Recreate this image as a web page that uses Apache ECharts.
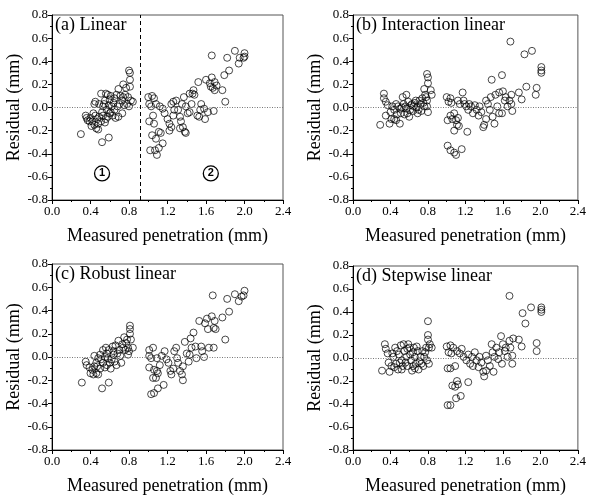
<!DOCTYPE html>
<html><head><meta charset="utf-8">
<script src="https://cdn.jsdelivr.net/npm/echarts@6/dist/echarts.min.js"></script>
<style>html,body{margin:0;padding:0;background:#fff}#c{width:589px;height:496px}</style>
</head><body><div id="c"></div>
<script>
const panelTitles = ['(a) Linear','(b) Interaction linear','(c) Robust linear','(d) Stepwise linear'];
const xTicks = [0.0,0.4,0.8,1.2,1.6,2.0,2.4];
const yTicks = [-0.8,-0.6,-0.4,-0.2,0.0,0.2,0.4,0.6,0.8];
const xName = 'Measured penetration (mm)';
const yName = 'Residual (mm)';
const splitX = 0.92;
const regionMarks = [[0.52,-0.57,'1'],[1.65,-0.57,'2']];

const linearPts = [
[0.30,-0.23],[0.52,-0.30],[0.59,-0.26],[0.35,-0.07],[0.36,-0.09],[0.37,-0.11],[0.39,-0.12],[0.41,-0.16],[0.44,-0.15],[0.46,-0.18],[0.48,-0.19],[0.48,-0.14],[0.45,-0.07],[0.43,-0.05],[0.44,0.03],[0.45,0.05],
[0.51,0.12],[0.56,0.12],[0.58,0.11],[0.61,0.10],[0.65,0.08],[0.69,0.16],[0.74,0.20],[0.77,0.17],[0.80,0.32],[0.81,0.30],[0.81,0.24],[0.81,0.18],[0.79,0.09],[0.82,0.06],[0.84,0.05],[0.78,0.03],[0.80,0.01],
[0.49,0.03],[0.53,0.01],[0.55,0.06],[0.57,-0.02],[0.60,-0.05],[0.63,-0.07],[0.65,-0.02],[0.68,0.01],[0.70,0.03],[0.73,0.06],[0.74,0.09],[0.53,-0.07],[0.56,-0.10],[0.51,-0.12],[0.49,-0.08],[0.58,-0.08],[0.62,0.01],[0.69,-0.08],[0.73,-0.05],[0.67,0.11],
[0.40,-0.09],[0.42,-0.12],[0.47,-0.10],[0.52,-0.04],[0.54,0.03],[0.59,0.02],[0.61,-0.04],[0.64,0.04],[0.66,-0.09],[0.71,0.10],[0.76,0.11],[0.75,0.02],[0.60,0.07],[0.55,-0.13],
[1.00,0.09],[1.04,0.10],[1.06,0.08],[1.01,0.03],[1.03,0.01],[1.08,0.03],[1.12,0.01],[1.15,-0.01],[1.01,-0.12],[1.05,-0.07],[1.06,-0.14],[1.04,-0.24],[1.08,-0.27],[1.11,-0.21],[1.13,-0.22],[1.02,-0.37],[1.07,-0.37],[1.09,-0.41],[1.15,-0.31],[1.11,-0.35],
[1.17,-0.05],[1.20,-0.10],[1.22,-0.14],[1.22,-0.20],[1.24,-0.17],[1.26,-0.07],[1.27,-0.02],[1.24,0.03],[1.26,0.05],[1.29,0.06],[1.31,-0.02],[1.33,-0.08],[1.34,-0.12],[1.33,-0.18],[1.36,-0.17],[1.38,-0.21],[1.39,-0.22],[1.35,0.03],[1.37,0.09],[1.39,0.01],[1.41,-0.05],[1.43,-0.04],[1.45,0.03],[1.43,0.12],[1.46,0.12],[1.47,0.15],[1.48,0.11],
[1.51,-0.07],[1.53,-0.08],[1.54,-0.02],[1.52,0.22],[1.55,0.03],[1.58,-0.01],[1.59,-0.10],[1.60,0.24],[1.62,-0.04],[1.64,0.21],[1.65,0.18],[1.66,0.26],[1.67,0.17],[1.69,0.22],[1.69,0.15],[1.71,0.19],[1.66,0.45],[1.68,-0.03],
[1.77,0.15],[1.79,0.28],[1.80,0.05],[1.82,0.43],[1.84,0.32],[1.90,0.49],[1.94,0.38],[1.95,0.43],[2.00,0.47],[2.00,0.44],[1.99,0.43]
];
const interactionPts = [
[0.29,-0.15],[0.33,0.12],[0.33,0.08],[0.35,0.05],[0.37,0.02],[0.35,-0.07],[0.39,-0.14],[0.41,-0.10],[0.44,-0.10],[0.46,-0.11],[0.50,-0.14],[0.42,0.01],[0.44,-0.02],[0.46,0.03],[0.48,0.01],[0.50,-0.01],[0.53,0.09],[0.54,0.03],[0.56,0.01],[0.57,0.11],[0.58,-0.05],[0.60,-0.08],[0.61,-0.02],[0.63,0.03],[0.65,0.01],[0.67,0.06],[0.69,-0.05],[0.70,-0.02],[0.72,0.03],[0.74,0.08],[0.76,0.01],[0.77,0.11],[0.79,0.06],[0.79,0.01],[0.80,-0.04],[0.79,0.29],[0.80,0.26],[0.80,0.21],[0.83,0.15],[0.84,0.11],[0.62,0.02],[0.51,-0.05],[0.40,-0.04],[0.76,0.16],
[0.52,0.00],[0.55,-0.06],[0.59,0.05],[0.64,-0.03],[0.66,0.04],[0.68,0.00],[0.71,0.06],[0.73,-0.03],[0.75,0.04],[0.78,0.09],[0.47,-0.06],[0.57,-0.01],
[1.00,0.09],[1.02,0.05],[1.04,0.08],[1.05,0.04],[1.01,-0.11],[1.04,-0.07],[1.06,-0.10],[1.08,-0.05],[1.10,-0.11],[1.11,-0.15],[1.12,-0.09],[1.08,-0.20],[1.01,-0.33],[1.04,-0.37],[1.08,-0.39],[1.10,-0.41],[1.16,-0.36],[1.13,-0.16],[1.17,0.13],[1.12,0.06],[1.14,0.03],[1.18,0.06],[1.19,0.03],[1.21,0.01],[1.23,-0.02],[1.22,-0.21],[1.24,0.03],[1.26,0.01],[1.28,-0.05],[1.30,0.02],[1.32,-0.02],[1.34,-0.07],[1.35,0.01],[1.37,-0.04],[1.39,-0.17],[1.40,-0.15],[1.42,-0.10],[1.42,0.06],[1.44,0.03],[1.46,-0.02],[1.47,0.09],[1.48,0.24],[1.49,-0.08],[1.51,-0.14],[1.52,0.11],[1.54,0.01],[1.56,0.13],[1.56,-0.05],[1.59,0.28],[1.60,0.14],[1.59,-0.05],[1.62,0.06],[1.63,0.09],[1.65,0.01],[1.67,0.06],[1.69,0.11],[1.70,-0.03],[1.68,0.57],[1.69,0.03],[1.77,0.13],[1.80,0.07],[1.83,0.46],[1.85,0.18],[1.91,0.49],[1.96,0.17],[1.95,0.11],[2.01,0.35],[2.01,0.32],[2.01,0.30]
];
const robustPts = [
[0.31,-0.22],[0.52,-0.27],[0.59,-0.22],[0.35,-0.04],[0.36,-0.07],[0.39,-0.09],[0.40,-0.14],[0.43,-0.15],[0.46,-0.14],[0.48,-0.15],[0.44,-0.08],[0.46,-0.05],[0.44,0.01],[0.48,-0.01],[0.50,0.02],[0.51,-0.02],[0.53,-0.05],[0.53,0.06],[0.56,0.08],[0.57,0.03],[0.58,-0.01],[0.60,-0.05],[0.61,-0.10],[0.63,0.09],[0.64,0.02],[0.65,-0.04],[0.67,-0.07],[0.69,0.14],[0.70,0.06],[0.71,0.01],[0.73,0.11],[0.75,0.17],[0.76,0.06],[0.77,0.12],[0.79,0.08],[0.79,0.02],[0.81,0.27],[0.81,0.24],[0.81,0.20],[0.82,0.15],[0.84,0.08],[0.80,0.05],[0.50,-0.10],[0.64,0.05],[0.57,-0.07],[0.72,-0.05],
[0.42,-0.11],[0.47,-0.08],[0.55,0.00],[0.59,0.06],[0.62,-0.02],[0.66,0.10],[0.68,0.03],[0.74,0.08],[0.78,0.15],[0.55,-0.09],
[1.01,0.06],[1.05,0.08],[1.01,0.01],[1.03,-0.01],[1.01,-0.09],[1.06,-0.11],[1.09,-0.12],[1.05,-0.18],[1.08,-0.18],[1.10,-0.14],[1.12,-0.07],[1.09,-0.01],[1.14,0.01],[1.03,-0.32],[1.06,-0.31],[1.10,-0.27],[1.16,-0.24],[1.17,0.05],[1.19,-0.02],[1.21,-0.05],[1.23,-0.12],[1.24,-0.15],[1.26,-0.10],[1.27,0.05],[1.29,0.08],[1.30,-0.01],[1.31,-0.05],[1.33,-0.12],[1.35,-0.15],[1.36,-0.08],[1.36,-0.20],[1.38,0.13],[1.40,0.03],[1.42,-0.04],[1.43,0.02],[1.44,0.16],[1.45,0.08],[1.47,0.21],[1.49,0.09],[1.50,-0.01],[1.53,0.31],[1.55,0.09],[1.56,0.05],[1.58,0.00],[1.59,0.29],[1.61,0.33],[1.62,0.24],[1.63,0.08],[1.66,0.35],[1.67,0.53],[1.68,0.25],[1.68,0.08],[1.69,0.31],[1.70,0.24],[1.77,0.34],[1.80,0.15],[1.82,0.50],[1.84,0.39],[1.90,0.54],[1.94,0.48],[1.97,0.52],[2.00,0.57],[1.99,0.53]
];
const stepwisePts = [
[0.31,-0.11],[0.34,0.12],[0.35,0.08],[0.37,0.04],[0.38,-0.04],[0.39,-0.12],[0.41,-0.07],[0.43,0.01],[0.45,0.09],[0.46,-0.05],[0.48,-0.10],[0.49,0.03],[0.51,0.11],[0.52,-0.02],[0.52,-0.10],[0.54,0.12],[0.55,0.06],[0.57,0.01],[0.58,-0.07],[0.59,0.12],[0.60,0.09],[0.61,0.03],[0.62,-0.02],[0.63,-0.11],[0.65,0.09],[0.66,0.01],[0.67,-0.05],[0.69,0.06],[0.70,-0.10],[0.72,0.01],[0.73,-0.05],[0.74,0.06],[0.76,0.01],[0.78,0.09],[0.79,-0.02],[0.80,0.32],[0.80,0.20],[0.80,0.16],[0.81,-0.05],[0.81,0.09],[0.84,0.09],[0.82,0.12],[0.64,0.05],[0.53,-0.07],
[0.44,-0.08],[0.47,0.06],[0.50,-0.04],[0.56,-0.04],[0.58,0.08],[0.64,-0.07],[0.68,0.10],[0.71,-0.03],[0.75,-0.07],[0.77,0.05],[0.42,0.04],[0.66,-0.09],
[1.00,0.10],[1.04,0.11],[1.02,0.05],[1.05,0.04],[1.01,-0.09],[1.04,-0.09],[1.09,-0.07],[1.06,-0.24],[1.09,-0.25],[1.11,-0.20],[1.12,-0.23],[1.01,-0.41],[1.04,-0.41],[1.10,-0.35],[1.15,-0.33],[1.07,0.09],[1.11,0.06],[1.14,0.04],[1.16,0.08],[1.18,0.01],[1.21,-0.02],[1.23,-0.21],[1.23,0.03],[1.25,-0.05],[1.27,0.01],[1.28,-0.07],[1.30,0.05],[1.32,-0.02],[1.34,-0.08],[1.35,0.01],[1.37,-0.04],[1.39,-0.12],[1.40,-0.16],[1.42,-0.11],[1.42,0.02],[1.44,-0.02],[1.46,-0.07],[1.48,0.12],[1.49,0.05],[1.50,-0.12],[1.51,0.01],[1.53,0.09],[1.55,-0.01],[1.56,0.05],[1.58,0.19],[1.59,-0.05],[1.60,0.12],[1.62,0.06],[1.63,0.09],[1.65,0.01],[1.67,0.54],[1.67,0.15],[1.68,0.09],[1.70,0.02],[1.70,-0.05],[1.71,0.17],[1.77,0.16],[1.80,0.10],[1.81,0.39],[1.84,0.30],[1.90,0.44],[1.96,0.06],[1.96,0.13],[2.01,0.44],[2.01,0.40],[2.01,0.42]
];
const panelData = [linearPts, interactionPts, robustPts, stepwisePts];

const FONT = '"Liberation Serif","Times New Roman",serif';
const grids = [
  {left:52, top:15, width:231, height:185},
  {left:353, top:15, width:229, height:185},
  {left:52, top:264, width:231, height:186},
  {left:353, top:266, width:229, height:185}
];

const option = {
  animation:false,
  backgroundColor:'#fff',
  title: grids.map((g,i)=>({text:panelTitles[i], left:g.left+3, top:g.top+1,
    textStyle:{fontFamily:FONT, fontSize:18, fontWeight:'normal', color:'#000'}, padding:0})),
  grid: grids.map(g=>Object.assign({show:true, borderColor:'#555', borderWidth:1, containLabel:false}, g)),
  xAxis: grids.map((g,i)=>({gridIndex:i, type:'value', min:xTicks[0], max:xTicks[xTicks.length-1], interval:0.4,
    name:xName, nameLocation:'middle', nameGap:27,
    nameTextStyle:{fontFamily:FONT, fontSize:18, color:'#000'},
    axisLine:{show:true, onZero:false, lineStyle:{color:'#000', width:1}},
    axisTick:{show:true, length:4, lineStyle:{color:'#000'}},
    minorTick:{show:true, splitNumber:2, length:2, lineStyle:{color:'#000'}},
    splitLine:{show:false},
    axisLabel:{fontFamily:FONT, fontSize:13, color:'#000', margin:5, formatter:v=>v.toFixed(1)}})),
  yAxis: grids.map((g,i)=>({gridIndex:i, type:'value', min:yTicks[0], max:yTicks[yTicks.length-1], interval:0.2,
    name:yName, nameLocation:'middle', nameGap:24,
    nameTextStyle:{fontFamily:FONT, fontSize:18, color:'#000'},
    axisLine:{show:true, onZero:false, lineStyle:{color:'#000', width:1}},
    axisTick:{show:true, length:4, lineStyle:{color:'#000'}},
    minorTick:{show:true, splitNumber:2, length:2, lineStyle:{color:'#000'}},
    splitLine:{show:false},
    axisLabel:{fontFamily:FONT, fontSize:13, color:'#000', margin:4, formatter:v=>v.toFixed(1)}})),
  series: panelData.map((pts,i)=>{
    const s = {type:'scatter', xAxisIndex:i, yAxisIndex:i, data:pts, symbol:'circle', symbolSize:7,
      itemStyle:{color:'rgba(255,255,255,0)', borderColor:'#000', borderWidth:0.9},
      markLine:{silent:true, symbol:'none', label:{show:false},
        data:[{yAxis:0, lineStyle:{color:'#777', type:[1,1.5], width:1}}]}};
    if(i===0){
      s.markLine.data.push({xAxis:splitX, lineStyle:{color:'#000', type:[4,3], width:1}});
      s.markPoint = {silent:true, data: regionMarks.map(m=>({coord:[m[0],m[1]], value:m[2], symbol:'circle', symbolSize:15,
        itemStyle:{color:'#fff', borderColor:'#000', borderWidth:1.3},
        label:{show:true, formatter:m[2], color:'#000', fontFamily:'Liberation Sans, Arial', fontWeight:'bold', fontSize:11}}))};
    }
    return s;
  })
};
const chart = echarts.init(document.getElementById('c'), null, {renderer:'canvas'});
chart.setOption(option);
</script></body></html>
